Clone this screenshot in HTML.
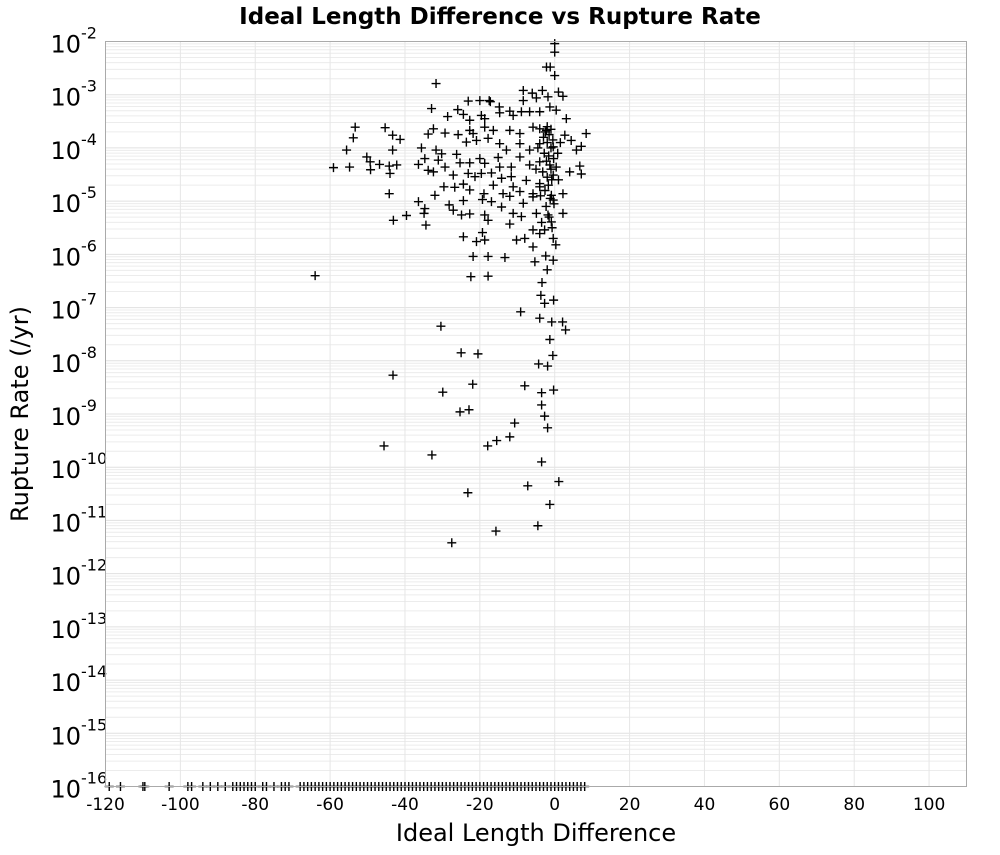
<!DOCTYPE html>
<html><head><meta charset="utf-8"><style>
body{margin:0;background:#fff;}
svg text{font-family:"DejaVu Sans","Liberation Sans",sans-serif;}
</style></head><body>
<svg id="chart" width="1000" height="850" xmlns="http://www.w3.org/2000/svg">
<text x="500" y="24" text-anchor="middle" font-size="23" font-weight="bold">Ideal Length Difference vs Rupture Rate</text>
<text x="536" y="841" text-anchor="middle" font-size="24">Ideal Length Difference</text>
<text transform="translate(28,414) rotate(-90)" text-anchor="middle" font-size="24">Rupture Rate (/yr)</text>
<g id="grid"></g>
<g id="axes"></g>
<g id="points"></g>
<rect x="105.5" y="41.5" width="861" height="745" fill="none" stroke="#aaa"/>
</svg>
<script>
const xTicks=[-120,-100,-80,-60,-40,-20,0,20,40,60,80,100];
const yExps=[-2,-3,-4,-5,-6,-7,-8,-9,-10,-11,-12,-13,-14,-15,-16];
// [x, log10(rate)]
const pointsX=[0,0,-2.2,-1.2,0,-31.7,-8.4,-6,-3.3,1,2.2,-23.1,-20,-17.5,-17.2,-14.8,-12,-8.4,-4.9,-1.8,-32.9,-25.9,-24.4,-28.6,-19.6,-18.7,-22.7,-14.7,-11.1,-8.9,-6.7,-4,-1.3,0.4,3.1,-53.3,-45.3,-53.8,-43.3,-41.3,-32.4,-33.8,-29.3,-25.8,-22.7,-21.8,-18.7,-16.4,-12,-9.3,-5.8,-4,-2.2,2.7,8.4,-55.6,-43.3,-35.6,-31.7,-30.2,-26.2,-23.6,-20.9,-17.8,-14.7,-12.9,-9.3,-6.7,-4,-0.4,4.4,7.1,5.8,-50.2,-49.3,-46.8,-44.2,-42.2,-59.1,-54.8,-49.2,-44,-36.4,-34.7,-31.1,-33.8,-32.4,-29.3,-27.1,-25.3,-22.7,-20,-18.7,-15.1,-14.7,-11.6,-9.3,-6.7,-4,-1.3,0.4,6.7,4,7.1,-23.1,-21.3,-19.6,-16.9,-14.2,-11.6,-7.6,-4,-0.4,-44.2,-32,-29.6,-26.7,-24.4,-22.7,-18.9,-16.4,-13.8,-11.1,-9.3,-5.8,-4,-0.9,2.2,-36.4,-34.7,-28.2,-27.1,-24.4,-19.3,-16.9,-14.2,-12,-8.4,-5.8,-0.4,-43.1,-39.6,-34.9,-34.4,-24.9,-22.7,-18.7,-17.8,-12,-11.1,-8.9,-4.9,-1.8,2.2,-0.9,-2.7,-5.8,-24.4,-20.9,-19.3,-18.7,-10.2,-8,-4,-0.4,0.3,-5.8,-21.8,-17.8,-13.3,-2.4,-0.4,-5.3,-2,-64,-22.4,-17.8,-3.4,
-2,-1,-2.5,-1.5,-3,-0.5,-2,-1,-2.8,-1.6,-0.3,-2.2,-1,-3.2,-2,-0.8,-1.7,-2.6,-1.2,-0.2,-2.3,-1.5,-3.5,-0.7,1,0.8,1.5,-4.5,-5,-3.8,
-30.4,-43.2,-45.6,-32.8,-23.2,-27.5,-15.7,-4.5,-1.3,-7.2,1.1,-3.5,-1.9,-12,-15.5,-17.9,-10.7,-22.9,-29.9,-25.3,-21.9,-8,-3.5,-0.3,-3.5,-2.7,-20.5,-25,-4.3,-1.9,-0.5,-1.3,2.9,2.1,-0.8,-9.1,-4,-2.7,-3.7,-0.3];
const pointsE=[-2.04,-2.2,-2.48,-2.48,-2.64,-2.79,-2.92,-2.97,-2.92,-2.95,-3.03,-3.12,-3.11,-3.11,-3.13,-3.23,-3.31,-3.11,-3.06,-3.04,-3.26,-3.28,-3.37,-3.41,-3.39,-3.45,-3.48,-3.34,-3.39,-3.32,-3.32,-3.32,-3.23,-3.29,-3.45,-3.61,-3.62,-3.81,-3.76,-3.84,-3.64,-3.74,-3.72,-3.75,-3.67,-3.73,-3.61,-3.67,-3.67,-3.73,-3.61,-3.64,-3.67,-3.76,-3.73,-4.04,-4.04,-4,-4.04,-4.11,-4.12,-3.89,-3.86,-3.82,-3.92,-4.04,-3.92,-4.04,-3.92,-3.98,-3.86,-3.97,-4.04,-4.17,-4.26,-4.31,-4.34,-4.32,-4.37,-4.36,-4.41,-4.48,-4.31,-4.2,-4.23,-4.42,-4.45,-4.36,-4.51,-4.28,-4.28,-4.2,-4.29,-4.18,-4.36,-4.36,-4.17,-4.32,-4.26,-4.32,-4.36,-4.34,-4.45,-4.49,-4.48,-4.54,-4.48,-4.47,-4.57,-4.54,-4.61,-4.67,-4.51,-4.86,-4.89,-4.73,-4.74,-4.68,-4.79,-4.86,-4.7,-4.86,-4.73,-4.82,-4.86,-4.73,-4.89,-4.86,-5.01,-5.14,-5.07,-5.17,-4.99,-4.97,-5.01,-5.11,-4.91,-5.04,-4.92,-4.98,-5.36,-5.27,-5.23,-5.45,-5.26,-5.24,-5.26,-5.36,-5.43,-5.23,-5.29,-5.23,-5.26,-5.23,-5.39,-5.54,-5.54,-5.67,-5.76,-5.59,-5.73,-5.73,-5.7,-5.61,-5.7,-5.82,-5.86,-6.04,-6.04,-6.06,-6.03,-6.11,-6.14,-6.29,-6.4,-6.42,-6.41,-6.53,
-3.6,-3.65,-3.7,-3.75,-3.8,-3.85,-3.9,-4,-4.1,-4.15,-4.2,-4.25,-4.4,-4.45,-4.55,-4.6,-4.7,-4.8,-4.95,-5.05,-5.1,-5.3,-5.4,-5.5,-4.6,-4.1,-3.9,-4,-4.4,-4.9,
-7.35,-8.27,-9.6,-9.77,-10.48,-11.42,-11.2,-11.1,-10.7,-10.35,-10.27,-9.9,-9.26,-9.43,-9.5,-9.6,-9.17,-8.92,-8.59,-8.96,-8.44,-8.47,-8.6,-8.55,-8.83,-9.04,-7.87,-7.85,-8.06,-8.1,-7.9,-7.6,-7.42,-7.27,-7.27,-7.08,-7.2,-6.92,-6.77,-6.86];
// zero-rate entries plotted at the 1e-16 floor
const floorX=[-119,-116,-110,-109.5,-103,-98,-97,-94,-92,-90,-88,-86,-85,-84,-83,-82,-81,-80,-78,-77,-75,-73,-72,-71,-68,-67,-66,-65,-64,-63,-62,-61,-60,-59,-58,-57,-56,-55,-54,-53,-52,-51,-50,-49,-48,-47,-46,-45,-44,-43,-42,-41,-40,-39,-38,-37,-36,-35,-34,-33,-32,-31,-30,-29,-28,-27,-26,-25,-24,-23,-22,-21,-20,-19,-18,-17,-16,-15,-14,-13,-12,-11,-10,-9,-8,-7,-6,-5,-4,-3,-2,-1,0,1,2,3,4,5,6,7,8];
const floorE=-16;

const X0=105.5,X1=966.5,Y0=41.5,Y1=786.5,XMIN=-120,XMAX=110,EMAX=-2,EMIN=-16;
const sx=v=>X0+(v-XMIN)/(XMAX-XMIN)*(X1-X0);
const sy=e=>Y0+(EMAX-e)/(EMAX-EMIN)*(Y1-Y0);
const NS='http://www.w3.org/2000/svg';
const grid=document.getElementById('grid'),axes=document.getElementById('axes'),pts=document.getElementById('points');
function mk(t,a,p){const el=document.createElementNS(NS,t);for(const k in a)el.setAttribute(k,a[k]);p.appendChild(el);return el;}
for(let d=EMIN;d<EMAX;d++){for(let m=2;m<=9;m++){const y=sy(d+Math.log10(m));
const l=mk('line',{x1:X0,x2:X1,y1:y,y2:y,stroke:'#ececec','stroke-width':1},grid);

}}
yExps.forEach(e=>{const y=sy(e);
const l=mk('line',{x1:X0,x2:X1,y1:y,y2:y,stroke:'#e0e0e0','stroke-width':1},grid);


const t=mk('text',{x:81,y:y+11,'text-anchor':'end','font-size':24},axes);


t.textContent='10';
const s=mk('text',{x:81,y:y-3,'font-size':16},axes);


s.textContent=String(e);});
xTicks.forEach(v=>{const x=sx(v);
const l=mk('line',{x1:x,x2:x,y1:Y0,y2:Y1,stroke:'#e6e6e6','stroke-width':1},grid);


const t=mk('text',{x:x,y:810,'text-anchor':'middle','font-size':17},axes);


t.textContent=String(v);});
function plus(x,y){const p=mk('path',{d:`M${x-4.5},${y}H${x+4.5}M${x},${y-4.5}V${y+4.5}`,stroke:'#000','stroke-width':1.4,fill:'none'},pts);

}
pointsX.forEach((v,i)=>plus(sx(v),sy(pointsE[i])));
floorX.forEach(v=>plus(sx(v),sy(floorE)));
</script>
</body></html>
